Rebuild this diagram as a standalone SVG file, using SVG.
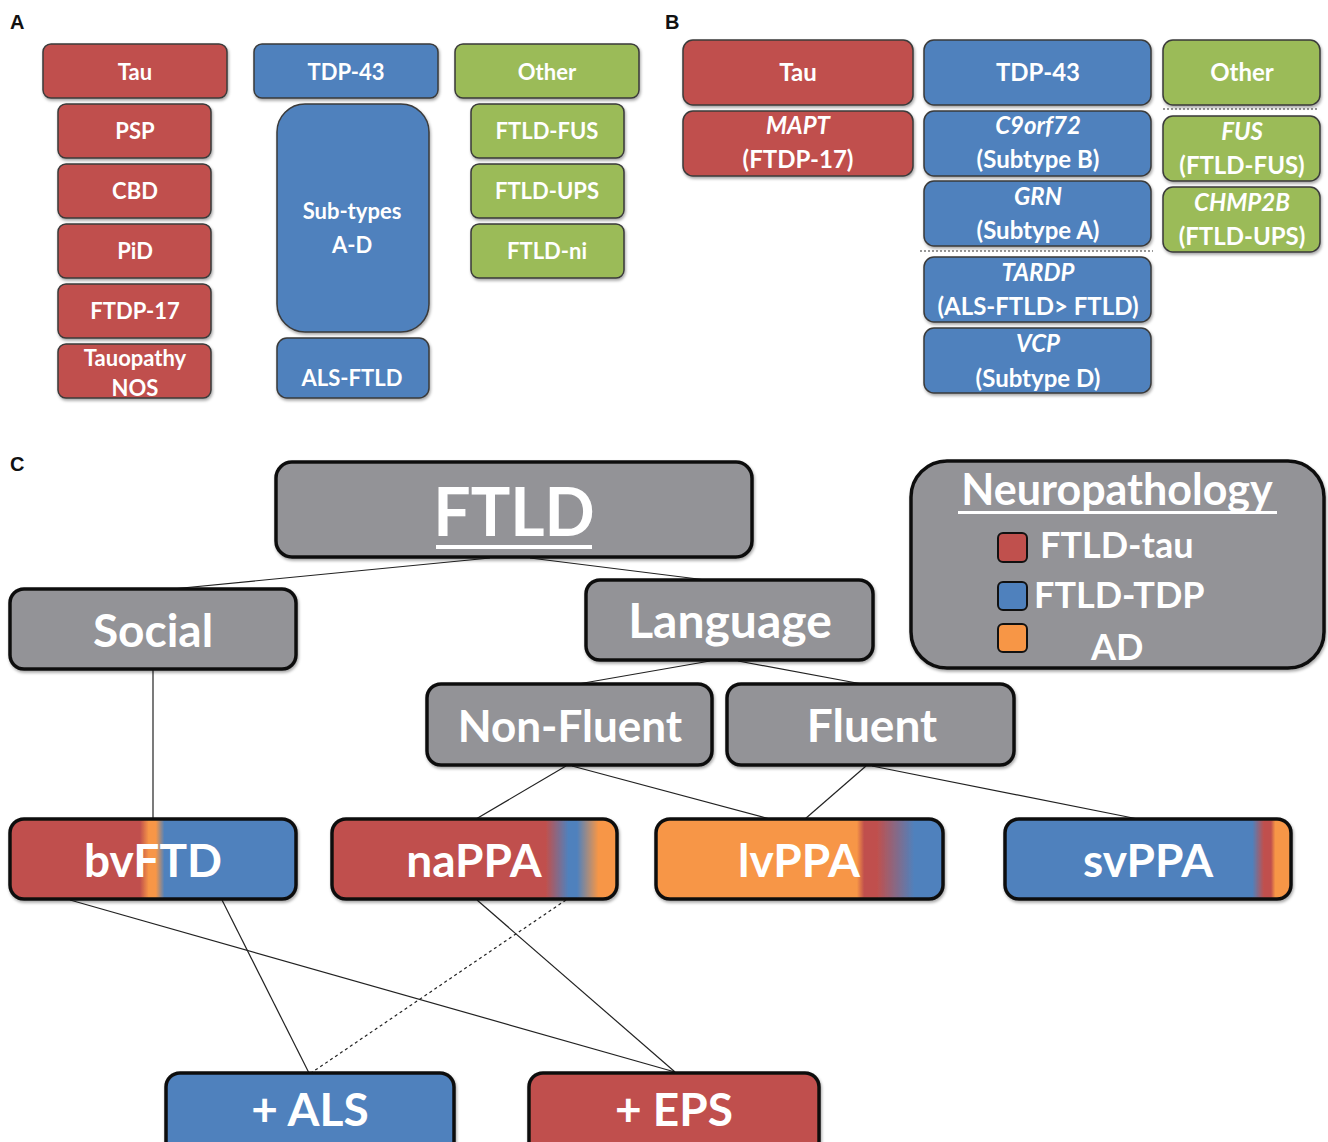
<svg xmlns="http://www.w3.org/2000/svg" width="1328" height="1142" viewBox="0 0 1328 1142">
<defs>
<filter id="sh" x="-10%" y="-10%" width="120%" height="130%"><feDropShadow dx="1" dy="2" stdDeviation="1.5" flood-color="#000" flood-opacity="0.35"/></filter>
<linearGradient id="gBv" x1="0" y1="0" x2="1" y2="0">
<stop offset="0" stop-color="#C0504D"/><stop offset="0.455" stop-color="#C0504D"/><stop offset="0.485" stop-color="#F79646"/><stop offset="0.51" stop-color="#F79646"/><stop offset="0.54" stop-color="#4F81BD"/><stop offset="1" stop-color="#4F81BD"/>
</linearGradient>
<linearGradient id="gNa" x1="0" y1="0" x2="1" y2="0">
<stop offset="0" stop-color="#C0504D"/><stop offset="0.75" stop-color="#C0504D"/><stop offset="0.83" stop-color="#4F81BD"/><stop offset="0.86" stop-color="#4F81BD"/><stop offset="0.935" stop-color="#F79646"/><stop offset="1" stop-color="#F79646"/>
</linearGradient>
<linearGradient id="gLv" x1="0" y1="0" x2="1" y2="0">
<stop offset="0" stop-color="#F79646"/><stop offset="0.7" stop-color="#F79646"/><stop offset="0.725" stop-color="#C0504D"/><stop offset="0.77" stop-color="#C0504D"/><stop offset="0.9" stop-color="#4F81BD"/><stop offset="1" stop-color="#4F81BD"/>
</linearGradient>
<linearGradient id="gSv" x1="0" y1="0" x2="1" y2="0">
<stop offset="0" stop-color="#4F81BD"/><stop offset="0.865" stop-color="#4F81BD"/><stop offset="0.905" stop-color="#C0504D"/><stop offset="0.93" stop-color="#C0504D"/><stop offset="0.945" stop-color="#F79646"/><stop offset="1" stop-color="#F79646"/>
</linearGradient>
</defs>
<style>
.r{fill:#C0504D}.b{fill:#4F81BD}.g{fill:#9BBB59}.o{fill:#F79646}.gr{fill:#939397}
.ab rect{stroke:#3a3a3a;stroke-width:1.5;filter:url(#sh)}
.cb rect{stroke:#111;stroke-width:3.5;filter:url(#sh)}
text{font-family:Lato,"Open Sans","Liberation Sans",sans-serif;font-weight:700;fill:#fff;text-anchor:middle}
.t22{font-size:22px}.t24{font-size:24px}
.big{font-size:46px}
.lab{font-family:"Liberation Sans",Arial,sans-serif;fill:#111;font-size:20px;text-anchor:start}
.it{font-style:italic}
.con line{stroke:#222;stroke-width:1.2}
.dot{stroke:#777;stroke-width:1.5;stroke-dasharray:2 2}
</style>
<rect width="1328" height="1142" fill="#fff"/>
<text class="lab" x="10" y="29">A</text>
<text class="lab" x="665" y="29">B</text>
<text class="lab" x="10" y="471">C</text>

<!-- Panel A -->
<g class="ab t22">
<g id="a-tau"><rect class="r" x="43" y="44" width="184" height="54" rx="8"/><text x="135" y="80">Tau</text></g>
<g id="a-psp"><rect class="r" x="58" y="104" width="153" height="54" rx="8"/><text x="135" y="139">PSP</text></g>
<g id="a-cbd"><rect class="r" x="58" y="164" width="153" height="54" rx="8"/><text x="135" y="199">CBD</text></g>
<g id="a-pid"><rect class="r" x="58" y="224" width="153" height="54" rx="8"/><text x="135" y="259">PiD</text></g>
<g id="a-ftdp"><rect class="r" x="58" y="284" width="153" height="54" rx="8"/><text x="135" y="319">FTDP-17</text></g>
<g id="a-nos"><rect class="r" x="58" y="344" width="153" height="54" rx="8"/><text x="135" y="366">Tauopathy</text><text x="135" y="396">NOS</text></g>
<g id="a-tdp"><rect class="b" x="254" y="44" width="184" height="54" rx="8"/><text x="346" y="80">TDP-43</text></g>
<g id="a-sub"><rect class="b" x="277" y="104" width="152" height="228" rx="28"/><text x="352" y="219">Sub-types</text><text x="352" y="253">A-D</text></g>
<g id="a-als"><rect class="b" x="277" y="338" width="152" height="60" rx="10"/><text x="352" y="386">ALS-FTLD</text></g>
<g id="a-other"><rect class="g" x="455" y="44" width="184" height="54" rx="8"/><text x="547" y="80">Other</text></g>
<g id="a-fus"><rect class="g" x="471" y="104" width="153" height="54" rx="8"/><text x="547" y="139">FTLD-FUS</text></g>
<g id="a-ups"><rect class="g" x="471" y="164" width="153" height="54" rx="8"/><text x="547" y="199">FTLD-UPS</text></g>
<g id="a-ni"><rect class="g" x="471" y="224" width="153" height="54" rx="8"/><text x="547" y="259">FTLD-ni</text></g>
</g>

<!-- Panel B -->
<line class="dot" x1="920" y1="251" x2="1153" y2="251"/>
<line class="dot" x1="1163" y1="109" x2="1318" y2="109"/>
<g class="ab t24">
<g id="b-tau"><rect class="r" x="683" y="40" width="230" height="65" rx="10"/><text x="798" y="81">Tau</text></g>
<g id="b-mapt"><rect class="r" x="683" y="111" width="230" height="65" rx="10"/><text class="it" x="798" y="134">MAPT</text><text x="798" y="168">(FTDP-17)</text></g>
<g id="b-tdp"><rect class="b" x="924" y="40" width="227" height="65" rx="10"/><text x="1038" y="81">TDP-43</text></g>
<g id="b-c9"><rect class="b" x="924" y="111" width="227" height="65" rx="10"/><text class="it" x="1038" y="134">C9orf72</text><text x="1038" y="168">(Subtype B)</text></g>
<g id="b-grn"><rect class="b" x="924" y="181" width="227" height="65" rx="10"/><text class="it" x="1038" y="205">GRN</text><text x="1038" y="239">(Subtype A)</text></g>
<g id="b-tardp"><rect class="b" x="924" y="257" width="227" height="65" rx="10"/><text class="it" x="1038" y="281">TARDP</text><text x="1038" y="315">(ALS-FTLD&gt; FTLD)</text></g>
<g id="b-vcp"><rect class="b" x="924" y="328" width="227" height="65" rx="10"/><text class="it" x="1038" y="352">VCP</text><text x="1038" y="387">(Subtype D)</text></g>
<g id="b-other"><rect class="g" x="1163" y="40" width="157" height="65" rx="10"/><text x="1242" y="81">Other</text></g>
<g id="b-fus"><rect class="g" x="1163" y="116" width="157" height="65" rx="10"/><text class="it" x="1242" y="140">FUS</text><text x="1242" y="174">(FTLD-FUS)</text></g>
<g id="b-chmp"><rect class="g" x="1163" y="187" width="157" height="65" rx="10"/><text class="it" x="1242" y="211">CHMP2B</text><text x="1242" y="245">(FTLD-UPS)</text></g>
</g>

<!-- Panel C connectors -->
<g id="connectors" class="con">
<line x1="490" y1="558" x2="172" y2="589"/>
<line x1="530" y1="558" x2="706" y2="580"/>
<line x1="710" y1="661" x2="578" y2="684"/>
<line x1="738" y1="661" x2="862" y2="684"/>
<line x1="153" y1="669" x2="153" y2="819"/>
<line x1="566" y1="766" x2="476" y2="819"/>
<line x1="572" y1="766" x2="770" y2="819"/>
<line x1="866" y1="766" x2="805" y2="819"/>
<line x1="872" y1="766" x2="1138" y2="819"/>
<line x1="70" y1="900" x2="675" y2="1072"/>
<line x1="222" y1="900" x2="309" y2="1073"/>
<line x1="477" y1="900" x2="675" y2="1072"/>
<line x1="566" y1="900" x2="311" y2="1073" style="stroke-dasharray:3 3"/>
</g>

<!-- Panel C nodes -->
<g class="cb">
<g id="c-ftld"><rect class="gr" x="276" y="462" width="476" height="95" rx="16"/><text x="514" y="536" style="font-size:66px">FTLD</text><rect x="436" y="545" width="156" height="4" style="fill:#fff;stroke:none;filter:none"/></g>
<g id="c-social"><rect class="gr" x="10" y="589" width="286" height="80" rx="14"/><text class="big" x="153" y="647">Social</text></g>
<g id="c-language"><rect class="gr" x="586" y="580" width="287" height="80" rx="14"/><text class="big" x="730" y="638" style="font-size:48px">Language</text></g>
<g id="c-nonfluent"><rect class="gr" x="427" y="684" width="285" height="81" rx="14"/><text class="big" x="570" y="742" style="font-size:44px">Non-Fluent</text></g>
<g id="c-fluent"><rect class="gr" x="727" y="684" width="287" height="81" rx="14"/><text class="big" x="872" y="742">Fluent</text></g>
<g id="c-legend"><rect class="gr" x="911" y="461" width="413" height="207" rx="36"/>
<text x="1117" y="505" style="font-size:43px">Neuropathology</text><rect x="958" y="511" width="319" height="3" style="fill:#fff;stroke:none;filter:none"/>
<rect class="r" x="998" y="533" width="29" height="29" rx="5" style="stroke-width:2;filter:none"/><text x="1040" y="558" style="font-size:36px;text-anchor:start">FTLD-tau</text>
<rect class="b" x="998" y="582" width="29" height="28" rx="5" style="stroke-width:2;filter:none"/><text x="1034" y="608" style="font-size:36px;text-anchor:start">FTLD-TDP</text>
<rect class="o" x="998" y="624" width="29" height="28" rx="5" style="stroke-width:2;filter:none"/><text x="1091" y="660" style="font-size:36px;text-anchor:start">AD</text>
</g>
<g id="c-bvftd"><rect x="10" y="819" width="286" height="80" rx="14" fill="url(#gBv)"/><text class="big" x="153" y="877">bvFTD</text></g>
<g id="c-nappa"><rect x="332" y="819" width="285" height="80" rx="14" fill="url(#gNa)"/><text class="big" x="474" y="877">naPPA</text></g>
<g id="c-lvppa"><rect x="656" y="819" width="287" height="80" rx="14" fill="url(#gLv)"/><text class="big" x="799" y="877">lvPPA</text></g>
<g id="c-svppa"><rect x="1005" y="819" width="286" height="80" rx="14" fill="url(#gSv)"/><text class="big" x="1148" y="877">svPPA</text></g>
<g id="c-als"><rect class="b" x="166" y="1073" width="288" height="85" rx="14"/><text class="big" x="310" y="1126">+ ALS</text></g>
<g id="c-eps"><rect class="r" x="529" y="1073" width="290" height="85" rx="14"/><text class="big" x="674" y="1126">+ EPS</text></g>
</g>
</svg>
